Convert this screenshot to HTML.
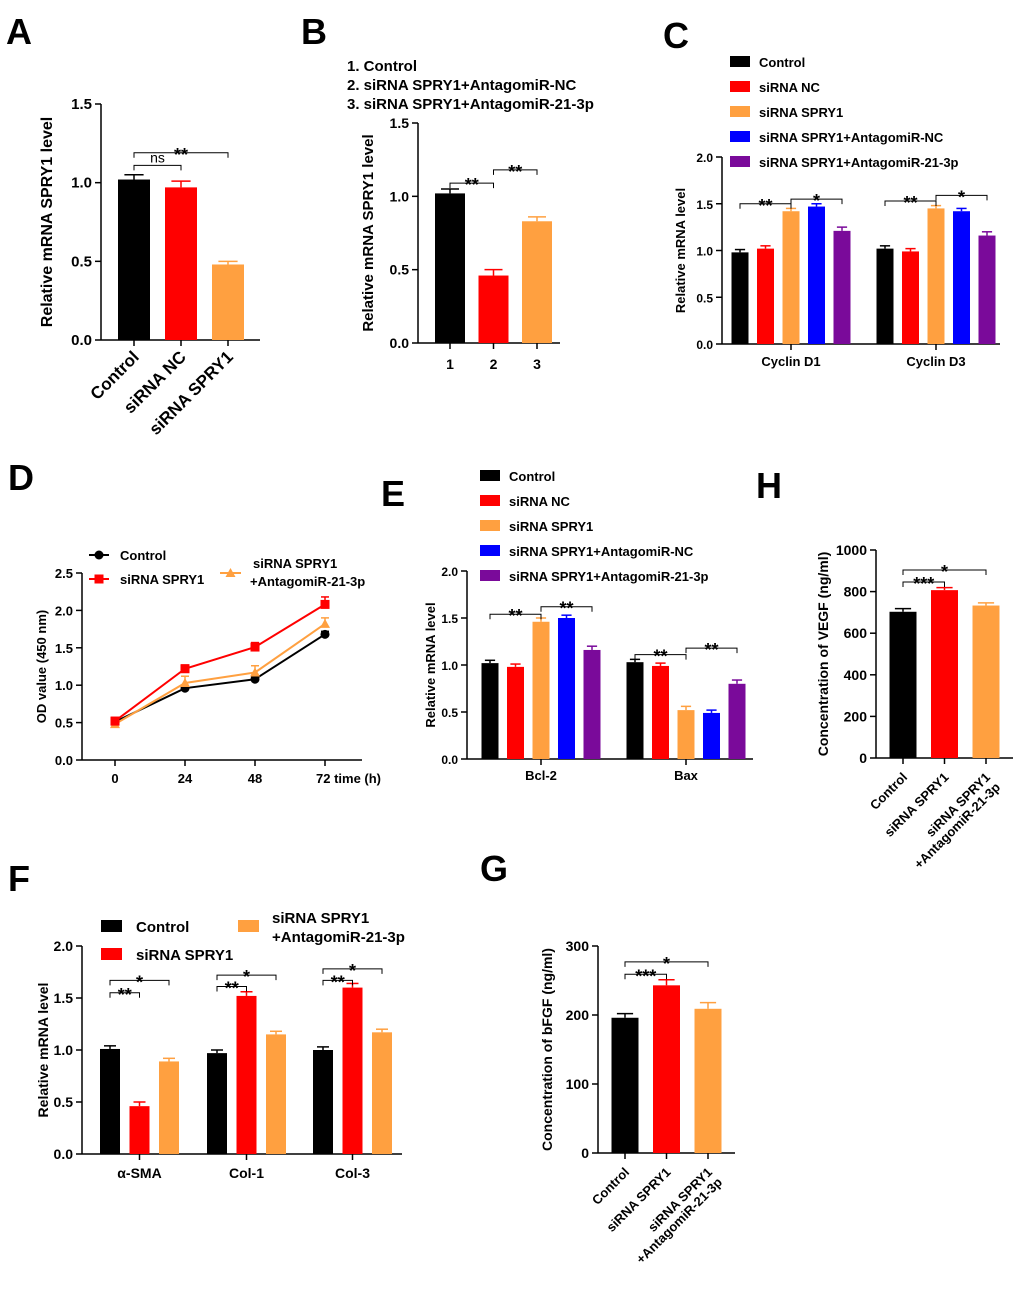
<!DOCTYPE html>
<html><head><meta charset="utf-8">
<style>
html,body{margin:0;padding:0;background:#fff;}
svg{display:block;font-family:"Liberation Sans",Arial,sans-serif;font-weight:bold;}
</style></head>
<body>
<svg id="fig" width="1020" height="1293" viewBox="0 0 1020 1293" xmlns="http://www.w3.org/2000/svg">
<g font-size="36" fill="#000">
<text x="6" y="44">A</text>
<text x="301" y="44">B</text>
<text x="663" y="48">C</text>
<text x="8" y="490">D</text>
<text x="381" y="506">E</text>
<text x="756" y="498">H</text>
<text x="8" y="891">F</text>
<text x="480" y="881">G</text>
</g>
<g font-size="15">
<text x="347" y="71">1. Control</text>
<text x="347" y="90">2. siRNA SPRY1+AntagomiR-NC</text>
<text x="347" y="109">3. siRNA SPRY1+AntagomiR-21-3p</text>
</g>
</svg>
<script>
// ---------- data ----------
const aCategories = ["Control","siRNA NC","siRNA SPRY1"];
const aValues = [1.02,0.97,0.48];
const aErrors = [0.03,0.04,0.02];
const aTicks = [0,0.5,1.0,1.5];

const bCategories = ["1","2","3"];
const bValues = [1.02,0.46,0.83];
const bErrors = [0.03,0.04,0.03];
const bTicks = [0,0.5,1.0,1.5];

const cGroups = ["Cyclin D1","Cyclin D3"];
const cSeriesNames = ["Control","siRNA NC","siRNA SPRY1","siRNA SPRY1+AntagomiR-NC","siRNA SPRY1+AntagomiR-21-3p"];
const cD1 = [0.98,1.02,1.42,1.47,1.21];
const cD3 = [1.02,0.99,1.45,1.42,1.16];
const cErrors = [0.03,0.03,0.03,0.03,0.04];
const cTicks = [0,0.5,1.0,1.5,2.0];

const dTimes = [0,24,48,72];
const dControl = [0.51,0.96,1.08,1.68];
const dSiRNA = [0.52,1.22,1.51,2.08];
const dAntago = [0.48,1.03,1.17,1.82];
const dErrControl = [0.04,0.03,0.04,0.04];
const dErrSiRNA = [0.05,0.05,0.06,0.1];
const dErrAntago = [0.05,0.09,0.09,0.08];
const dTicks = [0,0.5,1.0,1.5,2.0,2.5];

const eGroups = ["Bcl-2","Bax"];
const eBcl2 = [1.02,0.98,1.46,1.50,1.16];
const eBax = [1.03,0.99,0.52,0.49,0.80];
const eErrors = [0.03,0.03,0.04,0.03,0.04];
const eTicks = [0,0.5,1.0,1.5,2.0];

const fGroups = ["α-SMA","Col-1","Col-3"];
const fSeriesNames = ["Control","siRNA SPRY1","siRNA SPRY1 +AntagomiR-21-3p"];
const fControl = [1.01,0.97,1.00];
const fSiRNA = [0.46,1.52,1.60];
const fAntago = [0.89,1.15,1.17];
const fErrors = [0.03,0.04,0.03];
const fTicks = [0,0.5,1.0,1.5,2.0];

const hCategories = ["Control","siRNA SPRY1","siRNA SPRY1|+AntagomiR-21-3p"];
const hValues = [703,807,733];
const hErrors = [15,12,13];
const hTicks = [0,200,400,600,800,1000];

const gCategories = ["Control","siRNA SPRY1","siRNA SPRY1|+AntagomiR-21-3p"];
const gValues = [196,243,209];
const gErrors = [6,8,9];
const gTicks = [0,100,200,300];

const COLORS = ["#000000","#ff0000","#ffa040","#0000ff","#7a0a9a"];
// ---------- helpers ----------
const NS="http://www.w3.org/2000/svg";
const svg=document.getElementById('fig');
function mk(tag,attrs,parent){const e=document.createElementNS(NS,tag);for(const k in attrs)e.setAttribute(k,attrs[k]);(parent||svg).appendChild(e);return e;}
function txt(s,attrs,parent){const t=mk('text',attrs,parent);t.textContent=s;return t;}

function axes(g,ax){
  const yS=v=>ax.y0-(v/ax.vmax)*(ax.y0-ax.y1);
  const yl=mk('line',{x1:ax.x0,y1:ax.y0,x2:ax.x0,y2:ax.y1,stroke:'#000','stroke-width':1.5},g);
  
  
  const xl=mk('line',{x1:ax.x0,y1:ax.y0,x2:ax.x1,y2:ax.y0,stroke:'#000','stroke-width':1.5},g);
  
  
  ax.ticks.forEach(t=>{
    const y=yS(t);
    mk('line',{x1:ax.x0-6,y1:y,x2:ax.x0,y2:y,stroke:'#000','stroke-width':1.5},g);
    const lb=txt(ax.fmt(t),{x:ax.x0-9,y:y+5,'text-anchor':'end','font-size':ax.fs},g);
    
    
  });
  const ty=(ax.y0+ax.y1)/2;
  const tt=txt(ax.title,{x:ax.titleX,y:ty,'text-anchor':'middle','font-size':ax.tfs||14,transform:`rotate(-90 ${ax.titleX} ${ty})`},g);
  
  
  return yS;
}
function bar(g,cx,w,v,err,yS,color,name){
  const y=yS(v),y0=yS(0);
  const r=mk('rect',{x:cx-w/2,y:y,width:w,height:y0-y,fill:color},g);
  
  
  const ye=yS(v+err);
  mk('line',{x1:cx,y1:y,x2:cx,y2:ye,stroke:color,'stroke-width':1.5},g);
  mk('line',{x1:cx-w*0.3,y1:ye,x2:cx+w*0.3,y2:ye,stroke:color,'stroke-width':1.5},g);
}
function bracket(g,xa,xb,v,label,yS){
  const y=yS(v);
  mk('path',{d:`M${xa},${y+5}V${y}H${xb}V${y+5}`,fill:'none',stroke:'#000','stroke-width':1},g);
  const ns=label==='ns';
  const t=txt(label,{x:(xa+xb)/2,y:ns?y-3:y+8,'text-anchor':'middle','font-size':ns?14:18,'font-weight':ns?'normal':'bold'},g);
  
  
}
function rotLabels(g,xs,y,labels,fs){
  labels.forEach((l,i)=>{
    const parts=l.split('|');
    parts.forEach((p,k)=>{
      const x=xs[i]+k*10, yy=y+k*10;
      const t=txt(p,{x:x,y:yy,'text-anchor':'end','font-size':fs,transform:`rotate(-45 ${x} ${yy})`},g);
      
      
    });
  });
}
function xtick(g,x,y0){mk('line',{x1:x,y1:y0,x2:x,y2:y0+6,stroke:'#000','stroke-width':1.5},g);}
function legendSwatch(g,x,y,color,label,name){
  const r=mk('rect',{x:x,y:y-6,width:20,height:11,fill:color},g);
  
  
  if(label){const t=txt(label,{x:x+29,y:y+5,'font-size':13},g);
  
  }
}
function panel(name){const g=mk('g',{});return g;}
const f1=v=>v.toFixed(1), f0=v=>String(v);

// ---------- Panel A ----------
(function(){
  const g=panel('panel-a-chart');
  const yS=axes(g,{x0:101,x1:260,y0:340,y1:104,vmax:1.5,ticks:aTicks,fmt:f1,fs:15,title:'Relative mRNA SPRY1 level',titleX:52,tfs:16});
  const xs=aCategories.map((c,i)=>134+i*47);
  xs.forEach((x,i)=>{bar(g,x,32,aValues[i],aErrors[i],yS,COLORS[i],'bar-'+i);xtick(g,x,340);});
  bracket(g,xs[0],xs[1],1.11,'ns',yS);
  bracket(g,xs[0],xs[2],1.19,'**',yS);
  rotLabels(g,xs.map(x=>x+6),358,aCategories,17);
})();
// ---------- Panel B ----------
(function(){
  const g=panel('panel-b-chart');
  const yS=axes(g,{x0:418,x1:560,y0:343,y1:123,vmax:1.5,ticks:bTicks,fmt:f1,fs:14,title:'Relative mRNA SPRY1 level',titleX:373,tfs:15});
  const xs=bCategories.map((c,i)=>450+i*43.5);
  xs.forEach((x,i)=>{bar(g,x,30,bValues[i],bErrors[i],yS,COLORS[i],'bar-'+i);xtick(g,x,343);
    const t=txt(bCategories[i],{x:x,y:369,'text-anchor':'middle','font-size':14},g);
    
    });
  bracket(g,xs[0],xs[1],1.09,'**',yS);
  bracket(g,xs[1],xs[2],1.18,'**',yS);
})();
// ---------- Panel C ----------
(function(){
  const g=panel('panel-c-chart');
  const yS=axes(g,{x0:722,x1:1000,y0:344,y1:157,vmax:2.0,ticks:cTicks,fmt:f1,fs:12,title:'Relative mRNA level',titleX:685,tfs:13});
  [cD1,cD3].forEach((arr,gi)=>{
    const base=gi===0?740:885;
    const xs=arr.map((v,i)=>base+i*25.5);
    xs.forEach((x,i)=>bar(g,x,17,arr[i],cErrors[i],yS,COLORS[i],'bar-'+gi+'-'+i));
    xtick(g,xs[2],344);
    const t=txt(cGroups[gi],{x:xs[2],y:366,'text-anchor':'middle','font-size':13},g);
    
    
    bracket(g,xs[0],xs[2],gi===0?1.50:1.53,'**',yS);
    bracket(g,xs[2],xs[4],gi===0?1.55:1.59,'*',yS);
  });
  cSeriesNames.forEach((n,i)=>legendSwatch(g,730,62+i*25,COLORS[i],n,'legend-c-'+i));
})();
// ---------- Panel D ----------
(function(){
  const g=panel('panel-d-chart');
  const yS=axes(g,{x0:82,x1:362,y0:760,y1:573,vmax:2.5,ticks:dTicks,fmt:f1,fs:13,title:'OD value (450 nm)',titleX:46,tfs:13});
  const xS=t=>115+t/72*210;
  dTimes.forEach(t=>{xtick(g,xS(t),760);
    const lb=txt(t===72?'72 time (h)':String(t),{x:t===72?xS(t)-9:xS(t),y:783,'text-anchor':t===72?'start':'middle','font-size':13},g);
    
    });
  const series=[[dControl,dErrControl,'#000','circle','line-control'],[dAntago,dErrAntago,'#ffa040','tri','line-antagomir'],[dSiRNA,dErrSiRNA,'#ff0000','square','line-sirna']];
  series.forEach(([vals,errs,col,shape,name])=>{
    const p=mk('polyline',{points:vals.map((v,i)=>xS(dTimes[i])+','+yS(v)).join(' '),fill:'none',stroke:col,'stroke-width':2},g);
    
    
    vals.forEach((v,i)=>{
      const x=xS(dTimes[i]),y=yS(v),ye=yS(v+errs[i]);
      mk('line',{x1:x,y1:y,x2:x,y2:ye,stroke:col,'stroke-width':1.5},g);
      mk('line',{x1:x-4,y1:ye,x2:x+4,y2:ye,stroke:col,'stroke-width':1.5},g);
      let m;
      if(shape==='circle')m=mk('circle',{cx:x,cy:y,r:4.5,fill:col},g);
      else if(shape==='square')m=mk('rect',{x:x-4.5,y:y-4.5,width:9,height:9,fill:col},g);
      else m=mk('path',{d:`M${x},${y-5}L${x+5},${y+4}L${x-5},${y+4}Z`,fill:col},g);
      
      
    });
  });
  mk('line',{x1:89,y1:555,x2:109,y2:555,stroke:'#000','stroke-width':2},g);mk('circle',{cx:99,cy:555,r:4.5,fill:'#000'},g);
  txt('Control',{x:120,y:560,'font-size':13},g);
  mk('line',{x1:89,y1:579,x2:109,y2:579,stroke:'#f00','stroke-width':2},g);mk('rect',{x:94.5,y:574.5,width:9,height:9,fill:'#f00'},g);
  txt('siRNA SPRY1',{x:120,y:584,'font-size':13},g);
  mk('line',{x1:220,y1:573,x2:241,y2:573,stroke:'#ffa040','stroke-width':2},g);mk('path',{d:'M230.5,568L235.5,577L225.5,577Z',fill:'#ffa040'},g);
  txt('siRNA SPRY1',{x:253,y:568,'font-size':13},g);
  txt('+AntagomiR-21-3p',{x:250,y:586,'font-size':13},g);
})();
// ---------- Panel E ----------
(function(){
  const g=panel('panel-e-chart');
  const yS=axes(g,{x0:467,x1:753,y0:759,y1:571,vmax:2.0,ticks:eTicks,fmt:f1,fs:12,title:'Relative mRNA level',titleX:435,tfs:13});
  [eBcl2,eBax].forEach((arr,gi)=>{
    const base=gi===0?490:635;
    const xs=arr.map((v,i)=>base+i*25.5);
    xs.forEach((x,i)=>bar(g,x,17,arr[i],eErrors[i],yS,COLORS[i],'bar-'+gi+'-'+i));
    xtick(g,xs[2],759);
    const t=txt(eGroups[gi],{x:xs[2],y:780,'text-anchor':'middle','font-size':13},g);
    
    
    bracket(g,xs[0],xs[2],gi===0?1.54:1.11,'**',yS);
    bracket(g,xs[2],xs[4],gi===0?1.62:1.18,'**',yS);
  });
  cSeriesNames.forEach((n,i)=>legendSwatch(g,480,476+i*25,COLORS[i],n,'legend-e-'+i));
})();
// ---------- Panel H ----------
(function(){
  const g=panel('panel-h-chart');
  const yS=axes(g,{x0:876,x1:1013,y0:758,y1:550,vmax:1000,ticks:hTicks,fmt:f0,fs:14,title:'Concentration of VEGF (ng/ml)',titleX:828,tfs:14});
  const xs=hCategories.map((c,i)=>903+i*41.5);
  xs.forEach((x,i)=>{bar(g,x,27,hValues[i],hErrors[i],yS,COLORS[i],'bar-'+i);xtick(g,x,758);});
  bracket(g,xs[0],xs[1],846,'***',yS);
  bracket(g,xs[0],xs[2],904,'*',yS);
  rotLabels(g,xs.map(x=>x+5),778,hCategories,13);
})();
// ---------- Panel F ----------
(function(){
  const g=panel('panel-f-chart');
  const yS=axes(g,{x0:82,x1:402,y0:1154,y1:946,vmax:2.0,ticks:fTicks,fmt:f1,fs:14,title:'Relative mRNA level',titleX:48,tfs:14});
  const groupsData=[0,1,2].map(k=>[fControl[k],fSiRNA[k],fAntago[k]]);
  const bases=[110,217,323];
  const b1=[1.55,1.61,1.67], b2=[1.67,1.72,1.78];
  groupsData.forEach((arr,gi)=>{
    const xs=arr.map((v,i)=>bases[gi]+i*29.5);
    xs.forEach((x,i)=>bar(g,x,20,arr[i],fErrors[i],yS,COLORS[i],'bar-'+gi+'-'+i));
    xtick(g,xs[1],1154);
    const t=txt(fGroups[gi],{x:xs[1],y:1178,'text-anchor':'middle','font-size':14},g);
    
    
    bracket(g,xs[0],xs[1],b1[gi],'**',yS);
    bracket(g,xs[0],xs[2],b2[gi],'*',yS);
  });
  mk('rect',{x:101,y:920,width:21,height:12,fill:'#000'},g);
  txt('Control',{x:136,y:932,'font-size':15},g);
  mk('rect',{x:101,y:948,width:21,height:12,fill:'#f00'},g);
  txt('siRNA SPRY1',{x:136,y:960,'font-size':15},g);
  mk('rect',{x:238,y:920,width:21,height:12,fill:'#ffa040'},g);
  txt('siRNA SPRY1',{x:272,y:923,'font-size':15},g);
  txt('+AntagomiR-21-3p',{x:272,y:942,'font-size':15},g);
})();
// ---------- Panel G ----------
(function(){
  const g=panel('panel-g-chart');
  const yS=axes(g,{x0:598,x1:735,y0:1153,y1:946,vmax:300,ticks:gTicks,fmt:f0,fs:14,title:'Concentration of bFGF (ng/ml)',titleX:552,tfs:14});
  const xs=gCategories.map((c,i)=>625+i*41.5);
  xs.forEach((x,i)=>{bar(g,x,27,gValues[i],gErrors[i],yS,COLORS[i],'bar-'+i);xtick(g,x,1153);});
  bracket(g,xs[0],xs[1],259,'***',yS);
  bracket(g,xs[0],xs[2],277,'*',yS);
  rotLabels(g,xs.map(x=>x+5),1173,gCategories,13);
})();
</script>
</body></html>
